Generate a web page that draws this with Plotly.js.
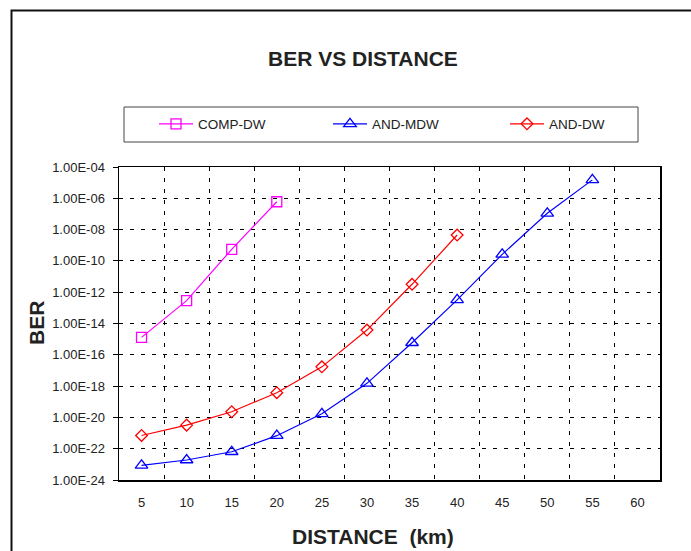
<!DOCTYPE html>
<html>
<head>
<meta charset="utf-8">
<script src="https://cdn.plot.ly/plotly-3.0.1.min.js"></script>
<style>
html,body{margin:0;padding:0;background:#fff;}
#chart{width:691px;height:551px;}
</style>
</head>
<body>
<div id="chart"></div>
<script>
// Data
var distances = [5, 10, 15, 20, 25, 30, 35, 40, 45, 50, 55, 60];
var distCompDW = [5, 10, 15, 20];
var berCompDW = [1.3e-15, 2.9e-13, 5.5e-10, 6e-7];
var distAndMDW = [5, 10, 15, 20, 25, 30, 35, 40, 45, 50, 55];
var berAndMDW = [8.7e-24, 1.9e-23, 6.4e-23, 6.8e-22, 1.7e-20, 1.5e-18, 5.9e-16, 3.2e-13, 2.6e-10, 1.1e-7, 1.5e-5];
var distAndDW = [5, 10, 15, 20, 25, 30, 35, 40];
var berAndDW = [7e-22, 3.2e-21, 2.3e-20, 3.8e-19, 1.7e-17, 3.8e-15, 3.2e-12, 4.5e-9];
var yTickVals = [1e-24, 1e-22, 1e-20, 1e-18, 1e-16, 1e-14, 1e-12, 1e-10, 1e-8, 1e-6, 1e-4];
var yTickText = ["1.00E-24","1.00E-22","1.00E-20","1.00E-18","1.00E-16","1.00E-14","1.00E-12","1.00E-10","1.00E-08","1.00E-06","1.00E-04"];

var FONT = "Liberation Sans, Arial, sans-serif";

var traces = [
  {x: distCompDW, y: berCompDW, name: "COMP-DW", type: "scatter", mode: "lines+markers", legend: "legend",
   line: {color: "#FF00FF", width: 1.2},
   marker: {symbol: "square-open", size: 10, color: "#FF00FF", line: {width: 1.3}}},
  {x: distAndMDW, y: berAndMDW, name: "AND-MDW", type: "scatter", mode: "lines+markers", legend: "legend2",
   line: {color: "#0000FF", width: 1.2},
   marker: {symbol: "triangle-up-open", size: 11, color: "#0000FF", line: {width: 1.3}}},
  {x: distAndDW, y: berAndDW, name: "AND-DW", type: "scatter", mode: "lines+markers", legend: "legend3",
   line: {color: "#FF0000", width: 1.2},
   marker: {symbol: "diamond-open", size: 9, color: "#FF0000", line: {width: 1.3}}}
];

var L = 119, R = 660, T = 167, B = 480;
var PW = R - L, PH = B - T;
function px(x){ return (x - L) / PW; }
function py(y){ return (B - y) / PH; }

function legendAt(xpx){
  return {orientation: "h", x: px(xpx), xanchor: "left", y: py(124), yanchor: "middle",
          bgcolor: "rgba(0,0,0,0)", borderwidth: 0, itemwidth: 34,
          font: {family: FONT, size: 13.5, color: "#222"}};
}

var layout = {
  width: 691, height: 551,
  margin: {l: L, r: 691 - R, t: T, b: 551 - B},
  paper_bgcolor: "#fff", plot_bgcolor: "#fff",
  font: {family: FONT, size: 12, color: "#222"},
  showlegend: true,
  legend: legendAt(154),
  legend2: legendAt(328),
  legend3: legendAt(505),
  xaxis: {
    range: [2.5, 62.5], tickmode: "array", tickvals: distances, ticktext: distances.map(String),
    showgrid: false, zeroline: false, ticks: "", ticklabelstandoff: 10,
    showline: true, linecolor: "#000", linewidth: 1.5, mirror: true,
    tickfont: {family: FONT, size: 13, color: "#222"},
    minor: {tick0: 2.5, dtick: 5, showgrid: true, gridcolor: "#000", gridwidth: 1, griddash: "4px,7px", ticks: ""}
  },
  yaxis: {
    type: "log", range: [-24, -4], tickmode: "array", tickvals: yTickVals, ticktext: yTickText,
    showgrid: true, gridcolor: "#000", gridwidth: 1, griddash: "4px,7px",
    ticks: "outside", ticklen: 5, tickcolor: "#000", tickwidth: 1, ticklabelstandoff: 5,
    showline: true, linecolor: "#000", linewidth: 1.5, mirror: true, zeroline: false,
    tickfont: {family: FONT, size: 13, color: "#222"}
  },
  shapes: [
    {type: "path", xref: "paper", yref: "paper",
     path: "M " + px(11.5) + " " + py(560) + " L " + px(11.5) + " " + py(10.5) + " L " + px(700) + " " + py(10.5),
     line: {color: "#111", width: 2}},
    {type: "rect", xref: "paper", yref: "paper",
     x0: px(124), x1: px(638), y0: py(142), y1: py(107),
     line: {color: "#444", width: 1}}
  ],
  annotations: [
    {text: "<b>BER VS DISTANCE</b>", xref: "paper", yref: "paper", x: px(363), y: py(58),
     xanchor: "center", yanchor: "middle", showarrow: false, font: {family: FONT, size: 21, color: "#222"}},
    {text: "<b>DISTANCE  (km)</b>", xref: "paper", yref: "paper", x: px(373), y: py(536),
     xanchor: "center", yanchor: "middle", showarrow: false, font: {family: FONT, size: 21, color: "#222"}},
    {text: "<b>BER</b>", xref: "paper", yref: "paper", x: px(36), y: py(323), textangle: -90,
     xanchor: "center", yanchor: "middle", showarrow: false, font: {family: FONT, size: 21, color: "#222"}}
  ]
};

Plotly.newPlot("chart", traces, layout, {displayModeBar: false, staticPlot: true});
</script>
</body>
</html>
